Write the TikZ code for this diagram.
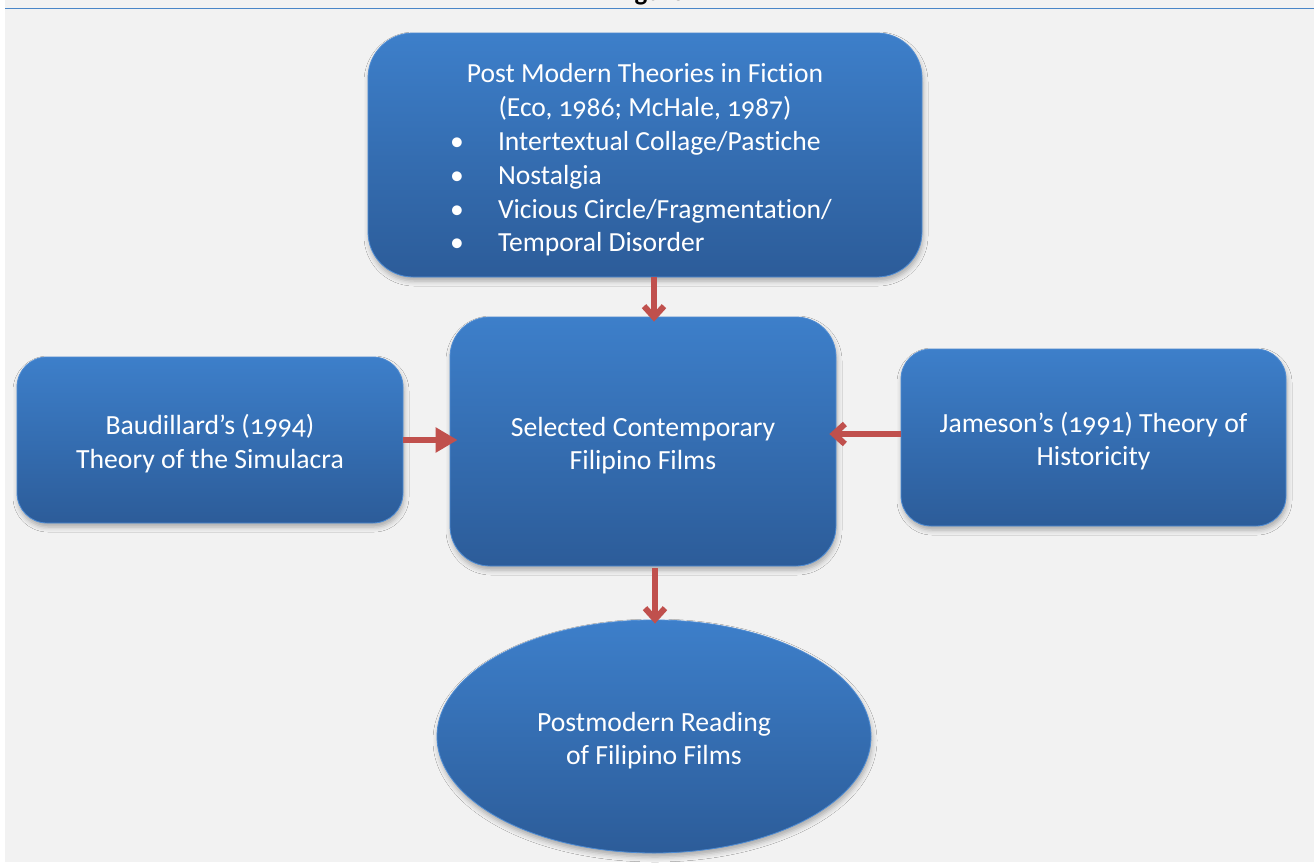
\documentclass[tikz,border=0pt]{standalone}
\usepackage{fontspec}
\setmainfont{Carlito}[Numbers=OldStyle, Ligatures=NoCommon]
\usetikzlibrary{arrows.meta,shapes.geometric,shadows.blur}
\definecolor{bgc}{HTML}{F2F2F2}
\definecolor{boxtop}{HTML}{3D7FCA}
\definecolor{boxbot}{HTML}{2C5C99}
\definecolor{boxedge}{HTML}{4F8CD3}
\definecolor{arrowred}{HTML}{C0504D}
\definecolor{rulec}{HTML}{4A86C8}
\newcommand\lowtext[1]{\raisebox{-5pt}[\height][\depth]{\begin{tabular}{@{}c@{}}#1\end{tabular}}}
\tikzset{
  boxbase/.style={draw=boxedge, line width=0.8pt, top color=boxtop, bottom color=boxbot,
    text=white, font=\fontsize{27.7}{33.5}\selectfont, align=center, inner sep=0pt,
    blur shadow={shadow xshift=1pt, shadow yshift=-4pt, shadow blur radius=5pt, shadow opacity=30}},
  rbox/.style={boxbase, rectangle, rounded corners=#1},
  ebox/.style={boxbase, ellipse},
  redarrow/.style={draw=arrowred, line width=6pt},
  barb/.style={-{Straight Barb[length=11pt,width=20pt]}},
  tri/.style={-{Triangle[length=22pt,width=24pt]}}
}
\begin{document}
\begin{tikzpicture}[x=1pt,y=-1pt]
\useasboundingbox (0,0) rectangle (1314,865);
\fill[white] (0,0) rectangle (1314,865);
\fill[bgc] (5,0) rectangle (1314,862);
\begin{scope}
\clip (0,0) rectangle (1314,8);
\node[font=\bfseries\fontsize{27}{30}\selectfont, anchor=base] (fig) at (660,0.5) {Figure 1};
\end{scope}
\draw[rulec, line width=1.5pt] (5,8.5) -- (1314,8.5);

\node[rbox=45pt, minimum width=554pt, minimum height=244pt] (top) at (645,155) {%
\raisebox{-5pt}[\height][\depth]{\begin{minipage}{554pt}\fontsize{27.6}{33.8}\selectfont
\centering Post Modern Theories in Fiction\\(Eco, 1986; McHale, 1987)\par
\raggedright
\hspace*{82pt}\makebox[48pt][l]{\textbullet}Intertextual Collage/Pastiche\\
\hspace*{82pt}\makebox[48pt][l]{\textbullet}Nostalgia\\
\hspace*{82pt}\makebox[48pt][l]{\textbullet}Vicious Circle/Fragmentation/\\
\hspace*{82pt}\makebox[48pt][l]{\textbullet}Temporal Disorder
\end{minipage}}};

\node[rbox=40pt, minimum width=386pt, minimum height=249pt] (mid) at (643,441.5)
  {\lowtext{Selected Contemporary\\Filipino Films}};
\node[rbox=30pt, minimum width=386pt, minimum height=166pt] (left) at (210,440)
  {\lowtext{Baudillard’s (1994)\\Theory of the Simulacra}};
\node[rbox=30pt, minimum width=385pt, minimum height=177pt] (right) at (1093.5,437.5)
  {\lowtext{Jameson’s (1991) Theory of\\Historicity}};
\node[ebox, minimum width=434pt, minimum height=233pt] (ell) at (654,736.5)
  {\lowtext{Postmodern Reading\\of Filipino Films}};

\draw[redarrow, barb, shorten >=-5pt] ([xshift=9pt]top.south) -- ([xshift=11pt]mid.north);
\draw[redarrow, tri, shorten >=-8pt] (left.east) -- (mid.west |- left.east);
\draw[redarrow, barb, shorten >=-7pt] ([yshift=3.5pt]right.west) -- ([yshift=3.5pt]mid.east |- right.west);
\draw[redarrow, barb, shorten <=2pt, shorten >=-4pt] ([xshift=12pt]mid.south) -- ([xshift=1pt]ell.north);
\end{tikzpicture}
\end{document}
